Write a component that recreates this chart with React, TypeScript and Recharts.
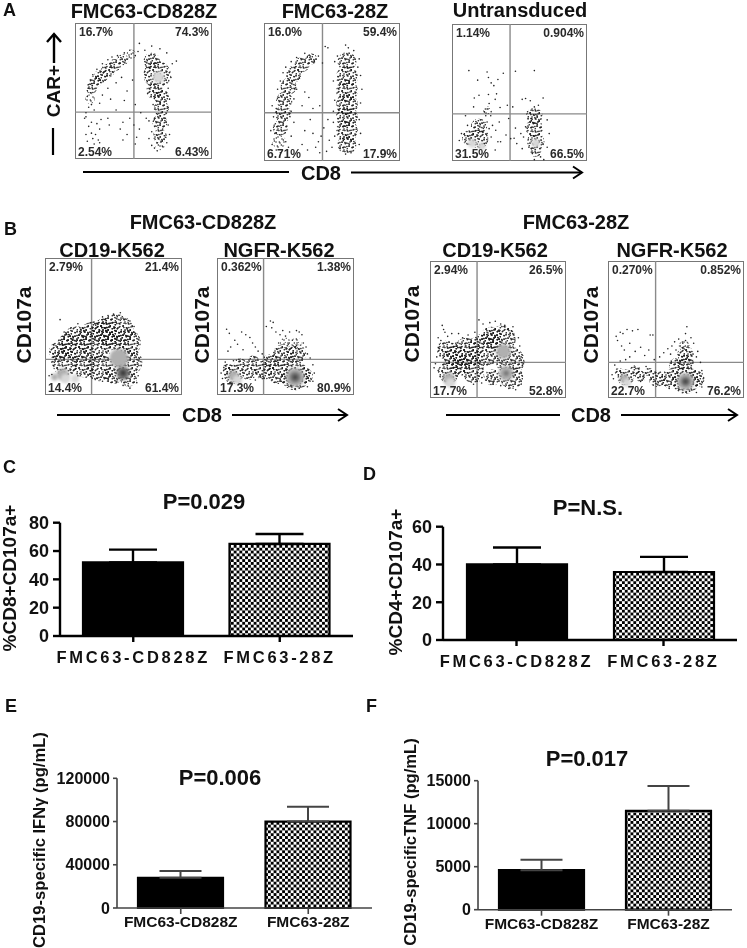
import React from "react";
import {
  BarChart,
  Bar,
  Cell,
  ErrorBar,
  XAxis,
  YAxis,
  ScatterChart,
  Scatter,
  ReferenceLine,
} from "recharts";

type Pair = [number, number];
type Blob = [number, number, number, number]; // x, y, spread, density level

const FONT = "'Liberation Sans', Arial, sans-serif";
const CATEGORIES = ["FMC63-CD828Z", "FMC63-28Z"];

// bar panels
const C_MEANS = [52, 65];
const C_ERRS = [9, 7];
const C_TICKS = [0, 20, 40, 60, 80];
const D_MEANS = [40, 36];
const D_ERRS = [9, 8];
const D_TICKS = [0, 20, 40, 60];
const E_MEANS = [28000, 80000];
const E_ERRS = [6200, 13700];
const E_TICKS = [0, 40000, 80000, 120000];
const F_MEANS = [4600, 11500];
const F_ERRS = [1210, 2880];
const F_TICKS = [0, 5000, 10000, 15000];

// flow panels: quadrant percentages (UL, UR, LL, LR)
const A1_PCT = ["16.7%", "74.3%", "2.54%", "6.43%"];
const A2_PCT = ["16.0%", "59.4%", "6.71%", "17.9%"];
const A3_PCT = ["1.14%", "0.904%", "31.5%", "66.5%"];
const B1_PCT = ["2.79%", "21.4%", "14.4%", "61.4%"];
const B2_PCT = ["0.362%", "1.38%", "17.3%", "80.9%"];
const B3_PCT = ["2.94%", "26.5%", "17.7%", "52.8%"];
const B4_PCT = ["0.270%", "0.852%", "22.7%", "76.2%"];

// density regions
const A1_BLOBS: Blob[] = [
  [11, 44, 3.5, 0], [12, 52, 4, 1], [15, 57, 4.5, 1], [19, 61, 5, 1], [24, 65, 5, 1], [29, 69, 4.5, 1], [35, 73, 4, 1], [41, 77, 3.5, 0],
  [56, 72, 6, 1], [60, 62, 10, 1], [58, 50, 6, 1], [63, 46, 5.5, 1], [63, 37, 5.5, 1], [62, 27, 5.5, 1], [62, 17, 5, 1], [62, 10, 3.5, 0],
  [61, 60, 4.5, 2],
];
const A2_BLOBS: Blob[] = [
  [11, 14, 5, 0], [12, 24, 5.5, 1], [14, 34, 6, 1], [15, 44, 6, 1], [18, 54, 6, 1], [22, 63, 6, 1], [28, 70, 5.5, 1], [35, 74, 4, 1],
  [61, 72, 7, 1], [61, 61, 8, 1], [61, 51, 8, 1], [61, 41, 8, 1], [61, 32, 8, 1], [61, 22, 8, 1], [61, 12, 7, 1],
];
const A3_BLOBS: Blob[] = [
  [13, 17, 5.5, 1], [20, 16, 7, 1], [20, 25, 6, 1], [26, 37, 3, 0], [61, 33, 6, 1], [61, 24, 6.5, 1], [62, 14, 6.5, 1], [62, 7, 4, 1],
  [15, 13, 3.5, 2], [22, 11, 3, 2], [62, 13, 3.5, 2],
];
const B1_BLOBS: Blob[] = [
  [15, 24, 10, 1], [10, 32, 7, 1], [17, 38, 7, 1], [23, 38, 12, 1], [37, 40, 14, 1], [52, 46, 13, 1], [44, 46, 10, 1], [60, 38, 10, 1], [61, 24, 10, 1], [61, 12, 6, 1], [40, 20, 10, 1], [28, 21, 8, 1], [50, 15, 7, 1],
  [13, 15, 4.5, 3], [7, 13, 2.5, 3], [15, 12, 3.5, 2], [22, 12, 3, 2], [54, 27, 7, 3], [57, 16, 5, 4], [57, 16, 2, 5],
];
const B2_BLOBS: Blob[] = [
  [12, 15, 7, 1], [8, 19, 4, 1], [23, 17, 6, 1], [34, 18, 7, 1], [45, 16, 8, 1], [57, 14, 10.5, 1], [64, 14, 6, 1], [48.5, 29, 8, 1], [58, 30, 7, 1], [50, 38, 4, 0], [58, 38, 4, 0], [26.5, 25, 4, 1], [39, 24, 6, 1], [17, 23, 4, 1],
  [12, 14, 4, 3], [15, 11, 3.5, 2], [57, 13, 7, 3], [57, 13, 4, 4], [57, 13, 1.5, 5],
];
const B3_BLOBS: Blob[] = [
  [14, 19, 8, 1], [12, 35, 7, 1], [27.5, 33, 11, 1], [19, 30, 9, 1], [40, 35, 12, 1], [53, 43, 10, 1], [45, 44, 8, 1], [59, 27, 10.5, 1], [60, 15, 8.5, 1], [32, 19, 8, 1], [22, 24, 8, 1], [46, 15, 6, 1],
  [14, 14, 4.5, 3], [15, 11, 3.5, 2], [54, 34, 5.5, 3], [56, 18, 5.5, 3], [56, 18, 2, 4],
];
const B4_BLOBS: Blob[] = [
  [13, 15, 6, 1], [8, 19, 3, 1], [20, 20, 4, 1], [24, 16, 4, 1], [36, 14, 6, 1], [46, 14, 7, 1], [50, 24, 5, 1], [57, 13, 10, 1], [64.5, 14, 6.5, 1], [57, 26, 6, 1], [57, 32, 6, 1], [56, 38, 4, 0], [30, 19, 3, 1],
  [12, 14, 3.5, 3], [14, 11, 3, 2], [57, 12, 6.5, 3], [57, 12, 3.5, 4], [57, 12, 1.5, 5],
];

// single events around the dense regions
const A1_DOTS: Pair[] = [
  [12, 40], [9, 46], [10, 52], [13, 62], [16, 66], [20, 70], [24, 73], [27, 75], [31, 76], [36, 78], [40, 80], [47, 85], [46, 79], [44, 76], [10, 38], [14, 36], [18, 41], [8, 34], [7, 30],
  [20, 47], [24, 52], [30, 56], [34, 60], [26, 44], [38, 50], [42, 58], [36, 43], [30, 36], [44, 40], [48, 34], [40, 30], [35, 27], [43, 25], [47, 22], [38, 18], [35, 14], [33, 22], [45, 16], [44, 11], [52, 30], [54, 28],
  [8, 31], [10, 24], [12, 27], [16, 26], [18, 22], [15, 18], [13, 15], [17, 14], [18, 12], [14, 11], [12, 19], [8, 18], [9, 13], [19, 29], [24, 30], [25, 25],
  [54, 15], [56, 10], [58, 8], [60, 6], [64, 9], [67, 12], [69, 18], [68, 25], [66, 30], [68, 38], [69, 44], [68, 52], [70, 60], [74, 72], [71, 70], [67, 78], [62, 81], [56, 83], [51, 80], [58, 30], [57, 40], [57, 50], [56, 20], [60, 12], [66, 16], [64, 22],
];
const A2_DOTS: Pair[] = [
  [6, 12], [8, 20], [5, 22], [9, 8], [12, 6], [7, 32], [9, 38], [6, 40], [11, 46], [10, 52], [12, 58], [14, 64], [16, 68], [20, 72], [24, 75], [30, 78], [34, 76], [40, 76], [37, 72], [43, 71], [26, 60], [24, 52], [22, 45], [20, 36], [22, 28], [20, 18], [18, 10], [16, 14],
  [30, 50], [33, 46], [28, 40], [36, 38], [34, 30], [30, 22], [36, 20], [28, 12], [32, 8], [38, 10], [40, 14], [42, 18], [41, 6], [46, 7], [44, 24], [41, 40], [45, 83], [47, 82], [51, 36], [47, 30], [48, 15], [50, 10],
  [52, 72], [54, 76], [60, 84], [62, 82], [66, 80], [70, 74], [71, 62], [72, 52], [71, 42], [70, 30], [71, 20], [70, 12], [64, 6], [60, 5], [56, 9], [52, 18], [51, 28], [52, 44], [51, 58], [69, 68],
];
const A3_DOTS: Pair[] = [
  [12.5, 66], [26, 65], [27, 61], [34, 59.5], [38, 64], [47, 65.5], [61, 66], [19, 59], [29, 57], [31, 55], [33, 49], [20, 48], [27, 48.5], [32, 45], [16.5, 46], [52, 45], [54.5, 45.6], [67.5, 46], [16, 39.5], [27.5, 42], [35.6, 39], [41, 40.7], [45, 39.5], [24, 36], [28.7, 33], [26, 38], [29, 36], [25, 33],
  [35, 28.5], [32.4, 22.4], [36, 14], [34, 14], [32, 8], [42, 31], [40, 19], [43.5, 16.3], [48, 12.7], [51, 20], [47, 24], [46, 16.6], [52, 9],
  [10, 33], [5.4, 15], [7, 20], [11.5, 26], [26, 20], [29, 17.5], [24, 12.7], [27.5, 23.6], [21, 30], [26, 28.5], [30, 26],
  [56, 36], [61, 39.5], [64, 40.7], [70.5, 30], [72, 20], [70.5, 10], [61, 1], [68, 1], [57, 10], [53, 17.5], [54.5, 25], [65.6, 3], [59.5, 5.4], [58, 44], [63, 33], [59, 31],
];
const B1_DOTS: Pair[] = [
  [11, 55], [16, 44], [19, 49], [24, 52], [26, 48], [31, 50], [37, 51], [42, 57], [44, 55], [46, 58], [50, 59], [55, 60], [57, 56], [62, 54], [65, 50], [66, 45], [68, 38], [67, 30], [66, 22], [68, 14], [67, 9], [62, 5], [57, 7], [52, 9], [46, 12],
  [5, 15], [3, 14], [8, 36], [10, 40], [6, 30], [5, 24], [8, 27], [14, 46], [20, 40], [34, 45], [40, 47], [47, 52], [52, 53], [60, 48], [63, 44], [42, 10], [38, 12], [30, 13], [24, 14], [18, 37], [28, 42],
];
const B2_DOTS: Pair[] = [
  [7, 48], [9, 45], [13, 40], [18, 46], [21, 44], [15, 37], [24, 42], [26, 38], [28, 35], [19, 33], [10, 35], [8, 32], [30, 32], [33, 30], [36, 50], [39, 54], [40, 49], [41, 53], [43, 46], [46, 44], [48, 47], [50, 43], [53, 46], [55, 40], [58, 47], [60, 46], [62, 44], [63, 38], [65, 35],
  [66, 30], [68, 27], [70, 22], [71, 16], [70, 10], [66, 6], [60, 5], [54, 7], [47, 10], [40, 11], [5, 20], [3, 16], [4, 12], [6, 24], [12, 25], [16, 26], [22, 24], [28, 11], [32, 13], [45, 38], [52, 37], [58, 36],
];
const B3_DOTS: Pair[] = [
  [9, 53], [10, 50], [11, 48], [6, 44], [8, 42], [13, 45], [16, 47], [21, 47], [24, 44], [36, 57], [39, 54], [44, 55], [48, 56], [52, 54], [55, 53], [57, 50], [61, 52], [59, 47], [65, 44], [66, 38], [67, 30], [68, 24], [66, 18], [67, 10], [63, 6], [58, 7], [52, 9], [47, 12], [45, 14], [38, 11],
  [32, 10], [4, 25], [3, 22], [5, 30], [7, 36], [6, 20], [28, 46], [33, 48], [42, 48], [50, 49], [19, 40], [26, 38], [62, 44],
];
const B4_DOTS: Pair[] = [
  [6, 45], [9, 48], [11, 47], [14, 50], [18, 49], [22, 50], [31, 46], [33, 46], [7, 42], [10, 38], [12, 35], [16, 40], [20, 34], [24, 37], [27, 31], [30, 35], [34, 28], [16, 30], [9, 27], [5, 24], [13, 28], [38, 30], [41, 33], [44, 36], [47, 38], [49, 41], [52, 43], [55, 40], [57, 42], [57, 47], [58, 52],
  [61, 44], [63, 40], [66, 34], [65, 30], [68, 26], [69, 20], [70, 14], [69, 8], [65, 4], [60, 5], [52, 6], [45, 7], [40, 10], [4, 14], [3, 17], [28, 23], [26, 16], [24, 12], [46, 32], [50, 35],
];

const LEVEL_FILL = ["url(#speckLight)", "url(#speckDense)", "#d8d8d8", "#b0b0b0", "#757575", "#383838"];

const toBars = (means: number[], errs: number[]) =>
  CATEGORIES.map((name, i) => ({ name, mean: means[i], err: [0, errs[i]] }));

// speckle texture for the crowded parts of the flow plots
const tile = [
  [1, 2], [5, 1], [9, 3], [14, 1], [18, 3], [3, 6], [7, 7], [12, 5], [16, 7], [20, 6],
  [1, 11], [5, 10], [10, 11], [14, 9], [18, 11], [3, 15], [8, 15], [12, 14], [16, 15], [20, 14],
  [1, 19], [6, 19], [10, 18], [14, 19], [19, 18],
];
const shifted = (offsets: number[][]) =>
  offsets.flatMap(([ox, oy]) => tile.map(([cx, cy]) => [(cx + ox) % 22, (cy + oy) % 21]));
const denseTile = shifted([[0, 0], [3.3, 1.7], [7.1, 4.3], [11.9, 8.6]]);
const lightTile = shifted([[0, 0], [5.3, 3.1]]);

function FlowPanel({ x, y, w, h, gateX, gateY, pct, blobs, dots }: {
  x: number; y: number; w: number; h: number; gateX: number; gateY: number;
  pct: string[]; blobs: Blob[]; dots: Pair[];
}) {
  const blobData = blobs.map(([px, py, spread, level]) => ({ px, py, spread, level }));
  const dotData = dots.map(([px, py]) => ({ px, py }));
  const label: React.CSSProperties = {
    position: "absolute", font: `700 12px ${FONT}`, color: "#2a2a2a", lineHeight: "12px", whiteSpace: "nowrap",
  };
  return (
    <div style={{ position: "absolute", left: x, top: y, width: w, height: h, outline: "1.5px solid #777", outlineOffset: -1 }}>
      <ScatterChart width={w} height={h} margin={{ top: 0, right: 0, bottom: 0, left: 0 }}>
        <XAxis type="number" dataKey="px" domain={[0, 100]} hide />
        <YAxis type="number" dataKey="py" domain={[0, 100]} hide />
        <Scatter
          data={blobData}
          isAnimationActive={false}
          shape={(p: any) => (
            <circle
              cx={p.cx}
              cy={p.cy}
              r={(p.payload.spread / 100) * w}
              fill={LEVEL_FILL[p.payload.level]}
              style={p.payload.level > 1 ? { filter: "blur(1.6px)" } : undefined}
            />
          )}
        />
        <Scatter
          data={dotData}
          isAnimationActive={false}
          shape={(p: any) => <circle cx={p.cx} cy={p.cy} r={0.8} fill="#222" />}
        />
        <ReferenceLine x={gateX} stroke="#8a8a8a" strokeWidth={1.4} />
        <ReferenceLine y={gateY} stroke="#8a8a8a" strokeWidth={1.4} />
      </ScatterChart>
      <span style={{ ...label, left: 4, top: 3 }}>{pct[0]}</span>
      <span style={{ ...label, right: 3, top: 3 }}>{pct[1]}</span>
      <span style={{ ...label, left: 3, bottom: 1 }}>{pct[2]}</span>
      <span style={{ ...label, right: 3, bottom: 1 }}>{pct[3]}</span>
    </div>
  );
}

function BarPanel({ left, top, width, axisX, plotTop, plotBottom, barSize, capHalf, means, errs, ticks, heavy, tickSize, catSize, catSpacing }: {
  left: number; top: number; width: number; axisX: number; plotTop: number; plotBottom: number;
  barSize: number; capHalf: number; means: number[]; errs: number[]; ticks: number[]; heavy: boolean;
  tickSize: number; catSize: number; catSpacing: number;
}) {
  const axisColor = heavy ? "#000" : "#444";
  const axisWidth = heavy ? 2.4 : 1.6;
  const bottomPad = 34;
  const line = { stroke: axisColor, strokeWidth: axisWidth };
  return (
    <div style={{ position: "absolute", left, top }}>
      <BarChart
        width={width}
        height={plotBottom - top + bottomPad}
        data={toBars(means, errs)}
        margin={{ top: plotTop - top, right: 0, bottom: 0, left: 0 }}
        barCategoryGap={0}
      >
        <XAxis
          dataKey="name"
          interval={0}
          height={bottomPad}
          axisLine={line}
          tickLine={line}
          tickSize={6}
          tickMargin={heavy ? 9 : 2}
          tick={{ fill: "#111", fontSize: catSize, fontWeight: 700, fontFamily: FONT, letterSpacing: catSpacing }}
        />
        <YAxis
          width={axisX - left}
          domain={[ticks[0], ticks[ticks.length - 1]]}
          ticks={ticks}
          interval={0}
          axisLine={line}
          tickLine={line}
          tickSize={heavy ? 7 : 4}
          tickMargin={heavy ? 4 : 3}
          tick={{ fill: "#111", fontSize: tickSize, fontWeight: 700, fontFamily: FONT }}
        />
        <Bar dataKey="mean" barSize={barSize} stroke="#000" strokeWidth={2.2} isAnimationActive={false}>
          <Cell fill="#000" />
          <Cell fill="url(#checker)" />
          <ErrorBar dataKey="err" direction="y" width={capHalf} stroke={axisColor} strokeWidth={heavy ? 2.4 : 2} />
        </Bar>
      </BarChart>
    </div>
  );
}

function T({ x, y, size = 20, rotate, anchor = "middle", children }: {
  x: number; y: number; size?: number; rotate?: boolean; anchor?: "start" | "middle" | "end"; children: React.ReactNode;
}) {
  return (
    <text
      x={x}
      y={y}
      fontSize={size}
      fontWeight={700}
      fontFamily={FONT}
      fill="#111"
      textAnchor={anchor}
      dominantBaseline="central"
      transform={rotate ? `rotate(-90 ${x} ${y})` : undefined}
    >
      {children}
    </text>
  );
}

function Arrow({ x1, x2, y }: { x1: number; x2: number; y: number }) {
  return (
    <g stroke="#000" strokeWidth={2} fill="none">
      <line x1={x1} y1={y} x2={x2} y2={y} />
      <polyline points={`${x2 - 9},${y - 6} ${x2},${y} ${x2 - 9},${y + 6}`} />
    </g>
  );
}

export default function App() {
  return (
    <div style={{ position: "absolute", left: 0, top: 0, width: 747, height: 948, background: "#fff", overflow: "hidden", filter: "blur(0.35px)" }}>
      <svg width={0} height={0} style={{ position: "absolute" }}>
        <defs>
          <pattern id="checker" patternUnits="userSpaceOnUse" width={5.7} height={5.7}>
            <rect width={5.7} height={5.7} fill="#fff" />
            <rect width={2.85} height={2.85} fill="#000" />
            <rect x={2.85} y={2.85} width={2.85} height={2.85} fill="#000" />
          </pattern>
          <pattern id="speckDense" patternUnits="userSpaceOnUse" width={22} height={21}>
            {denseTile.map(([cx, cy], i) => (
              <circle key={i} cx={cx} cy={cy} r={0.8} fill="#1a1a1a" />
            ))}
          </pattern>
          <pattern id="speckLight" patternUnits="userSpaceOnUse" width={22} height={21}>
            {lightTile.map(([cx, cy], i) => (
              <circle key={i} cx={cx} cy={cy} r={0.75} fill="#222" />
            ))}
          </pattern>
        </defs>
      </svg>

      <FlowPanel x={75} y={23} w={137} h={136} gateX={43} gateY={34.5} pct={A1_PCT} blobs={A1_BLOBS} dots={A1_DOTS} />
      <FlowPanel x={264} y={23} w={136} h={138} gateX={43} gateY={35} pct={A2_PCT} blobs={A2_BLOBS} dots={A2_DOTS} />
      <FlowPanel x={452} y={24} w={135} h={137} gateX={43} gateY={34.4} pct={A3_PCT} blobs={A3_BLOBS} dots={A3_DOTS} />
      <FlowPanel x={45} y={258} w={137} h={137} gateX={34} gateY={26} pct={B1_PCT} blobs={B1_BLOBS} dots={B1_DOTS} />
      <FlowPanel x={217} y={258} w={137} h={137} gateX={34} gateY={26} pct={B2_PCT} blobs={B2_BLOBS} dots={B2_DOTS} />
      <FlowPanel x={430} y={261} w={136} h={137} gateX={34.6} gateY={26} pct={B3_PCT} blobs={B3_BLOBS} dots={B3_DOTS} />
      <FlowPanel x={608} y={261} w={136} h={137} gateX={35} gateY={26} pct={B4_PCT} blobs={B4_BLOBS} dots={B4_DOTS} />

      <BarPanel left={0} top={505} width={353} axisX={60} plotTop={522.7} plotBottom={636} barSize={100} capHalf={24} means={C_MEANS} errs={C_ERRS} ticks={C_TICKS} heavy tickSize={18} catSize={16.5} catSpacing={2.7} />
      <BarPanel left={374} top={510} width={363} axisX={443} plotTop={526.7} plotBottom={640} barSize={100} capHalf={24} means={D_MEANS} errs={D_ERRS} ticks={D_TICKS} heavy tickSize={18} catSize={16.5} catSpacing={2.7} />
      <BarPanel left={0} top={762} width={372} axisX={117} plotTop={778.3} plotBottom={908} barSize={85} capHalf={21} means={E_MEANS} errs={E_ERRS} ticks={E_TICKS} heavy={false} tickSize={16} catSize={15.5} catSpacing={0} />
      <BarPanel left={374} top={764} width={358} axisX={478} plotTop={780.7} plotBottom={909.7} barSize={85} capHalf={21} means={F_MEANS} errs={F_ERRS} ticks={F_TICKS} heavy={false} tickSize={16} catSize={15.5} catSpacing={0} />

      <svg width={747} height={948} style={{ position: "absolute", left: 0, top: 0, pointerEvents: "none" }}>
        <T x={3} y={10} size={18} anchor="start">A</T>
        <T x={4} y={229} size={18} anchor="start">B</T>
        <T x={3} y={467} size={18} anchor="start">C</T>
        <T x={363} y={474} size={18} anchor="start">D</T>
        <T x={5} y={706} size={18} anchor="start">E</T>
        <T x={366} y={706} size={18} anchor="start">F</T>

        <T x={144} y={11}>FMC63-CD828Z</T>
        <T x={335} y={11}>FMC63-28Z</T>
        <T x={520} y={10}>Untransduced</T>
        <T x={53} y={91} size={19} rotate>CAR+</T>
        <line x1={53} y1={155} x2={53} y2={128} stroke="#000" strokeWidth={2.2} />
        <g stroke="#000" strokeWidth={2.4} fill="none">
          <line x1={54} y1={63} x2={54} y2={34} />
          <polyline points="47,42 54,34 61,42" />
        </g>
        <T x={321} y={173}>CD8</T>
        <line x1={83} y1={172} x2={289} y2={172} stroke="#000" strokeWidth={2} />
        <Arrow x1={351} x2={582} y={172.5} />

        <T x={203} y={222}>FMC63-CD828Z</T>
        <T x={576} y={222}>FMC63-28Z</T>
        <T x={112} y={250}>CD19-K562</T>
        <T x={279} y={250}>NGFR-K562</T>
        <T x={495} y={250}>CD19-K562</T>
        <T x={672} y={250}>NGFR-K562</T>
        <T x={23} y={325} size={21} rotate>CD107a</T>
        <T x={201} y={325} size={21} rotate>CD107a</T>
        <T x={411} y={324} size={21} rotate>CD107a</T>
        <T x={590} y={325} size={21} rotate>CD107a</T>
        <T x={202} y={415}>CD8</T>
        <line x1={57} y1={415} x2={170} y2={415} stroke="#000" strokeWidth={2} />
        <Arrow x1={232} x2={347} y={415} />
        <T x={591} y={415}>CD8</T>
        <line x1={446} y1={415} x2={560} y2={415} stroke="#000" strokeWidth={2} />
        <Arrow x1={621} x2={737} y={415} />

        <T x={204} y={501} size={22}>P=0.029</T>
        <T x={588} y={507} size={22}>P=N.S.</T>
        <T x={220} y={777} size={22}>P=0.006</T>
        <T x={587} y={758} size={22}>P=0.017</T>
        <T x={9} y={578} size={19} rotate>%CD8+CD107a+</T>
        <T x={395} y={582} size={19} rotate>%CD4+CD107a+</T>
        <T x={39} y={840} size={16.6} rotate>CD19-specific IFNγ (pg/mL)</T>
        <T x={410} y={842} size={16.6} rotate>CD19-specificTNF (pg/mL)</T>
      </svg>
    </div>
  );
}
